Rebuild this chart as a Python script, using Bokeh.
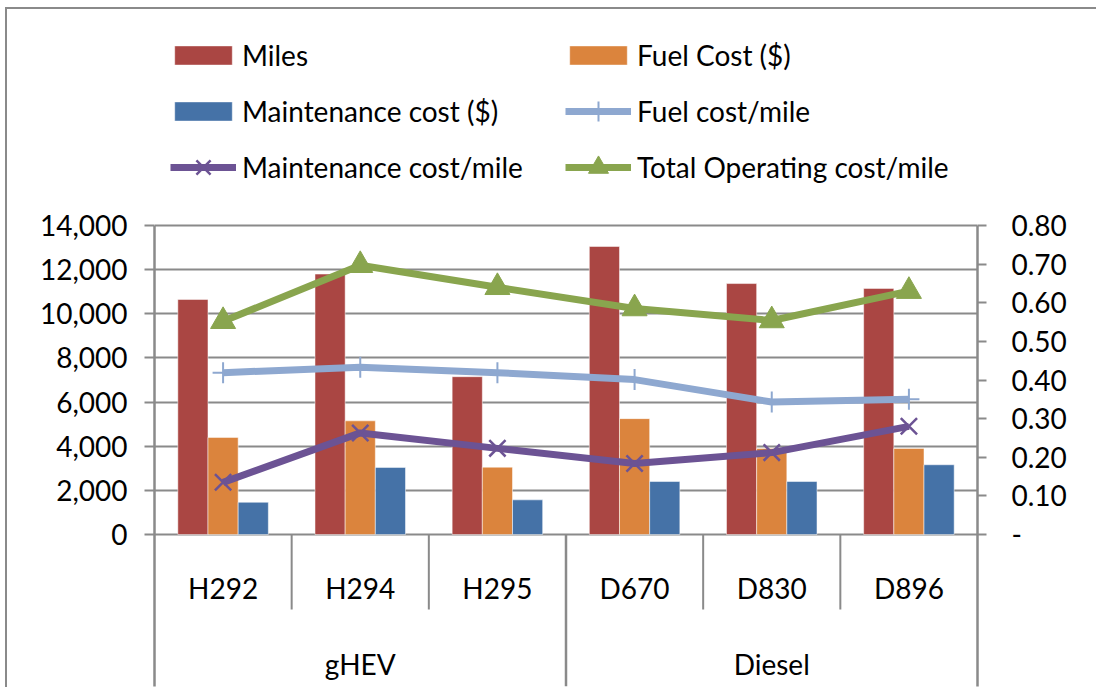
from bokeh.plotting import figure
from bokeh.models import (Range1d, FactorRange, LinearAxis, FixedTicker, NumeralTickFormatter,
                          ColumnDataSource, Legend, LegendItem, Grid)
from bokeh.transform import dodge
from bokeh.core.properties import value
from bokeh.embed import file_html
from bokeh.resources import INLINE

# ---------------- data ----------------
vehicles = ["H292", "H294", "H295", "D670", "D830", "D896"]
groups = ["gHEV", "gHEV", "gHEV", "Diesel", "Diesel", "Diesel"]
miles = [10650, 11800, 7150, 13050, 11370, 11150]
fuel_cost = [4400, 5150, 3050, 5250, 3900, 3900]
maint_cost = [1460, 3040, 1570, 2400, 2400, 3160]
fuel_per_mile = [0.419, 0.433, 0.419, 0.401, 0.343, 0.350]
maint_per_mile = [0.135, 0.263, 0.223, 0.184, 0.212, 0.280]
total_per_mile = [0.552, 0.697, 0.640, 0.585, 0.554, 0.630]
left_ticks = [0, 2000, 4000, 6000, 8000, 10000, 12000, 14000]
right_ticks = [0, 0.1, 0.2, 0.3, 0.4, 0.5, 0.6, 0.7, 0.8]

# ---------------- style / layout ----------------
FONT = "Lato"
FS = "28px"
GRAY = "#8a8a8a"
C_MILES = "#AA4643"
C_FUEL = "#DB843D"
C_MAINT = "#4572A7"
C_FPM = "#8EA8D0"
C_MPM = "#6C5394"
C_TPM = "#89A54E"

MX, MY, BORDER = 5, 7, 2
OX, OY = MX + BORDER, MY + BORDER        # window position of canvas origin
W, H = 1091, 680
frame_left_w, frame_right_w = 154, 977
frame_top_w = OY                        # frame spans whole canvas height
tick_top_w, zero_w, frame_bottom_w = 225, 534, 686
Y_MAX = left_ticks[-1]
R_MAX = right_ticks[-1]
ppu = (zero_w - tick_top_w) / Y_MAX


def y_at(win_y):
    return -(win_y - zero_w) / ppu


y_start = y_at(frame_bottom_w)
y_end = y_at(frame_top_w)
r_start = y_start / Y_MAX * R_MAX
r_end = y_end / Y_MAX * R_MAX

p = figure(width=W, height=H,
           x_range=FactorRange(factors=vehicles, range_padding=0),
           y_range=Range1d(y_start, y_end),
           output_backend="svg", toolbar_location=None,
           x_axis_location=None, y_axis_location=None,
           min_border_left=frame_left_w - OX,
           min_border_right=W - (frame_right_w - OX),
           min_border_top=0,
           min_border_bottom=H - (frame_bottom_w - OY))
p.center = []
p.outline_line_color = None
p.background_fill_color = "white"
p.border_fill_color = "white"
p.styles = {"margin-left": f"{MX}px", "margin-top": f"{MY}px",
            "border-left": f"{BORDER}px solid #8a8a8a", "border-top": f"{BORDER}px solid #8a8a8a",
            "border-right": "0px", "border-bottom": "0px", "outline": "none"}

p.extra_y_ranges = {"r": Range1d(r_start, r_end)}

grid = Grid(dimension=1, ticker=FixedTicker(ticks=left_ticks),
            grid_line_color=GRAY, grid_line_width=2)
p.add_layout(grid, "center")

axis_style = dict(axis_line_color=GRAY, axis_line_width=2.5,
                  major_tick_line_color=GRAY, major_tick_line_width=2,
                  major_tick_in=0, minor_tick_line_color=None,
                  major_label_text_font=FONT, major_label_text_font_size=FS,
                  major_label_text_color="black")
yl = LinearAxis(ticker=FixedTicker(ticks=left_ticks), bounds=(y_start, Y_MAX),
                formatter=NumeralTickFormatter(format="0,0"),
                major_tick_out=10, major_label_standoff=17, **axis_style)
p.add_layout(yl, "left")
yr = LinearAxis(y_range_name="r", ticker=FixedTicker(ticks=right_ticks), bounds=(r_start, R_MAX),
                formatter=NumeralTickFormatter(format="0.00"),
                major_label_overrides={0: "-"},
                major_tick_out=9, major_label_standoff=25, **axis_style)
p.add_layout(yr, "right")

src = ColumnDataSource(dict(vehicle=vehicles, group=groups, miles=miles, fuel=fuel_cost,
                            maint=maint_cost, fpm=fuel_per_mile, mpm=maint_per_mile,
                            tpm=total_per_mile))

bw = 0.22
bar_kw = dict(width=bw, source=src, line_color="white", line_alpha=0.5, line_width=1)
r_miles = p.vbar(x=dodge("vehicle", -bw, range=p.x_range), top="miles", fill_color=C_MILES, **bar_kw)
r_fuel = p.vbar(x=dodge("vehicle", 0, range=p.x_range), top="fuel", fill_color=C_FUEL, **bar_kw)
r_maint = p.vbar(x=dodge("vehicle", bw, range=p.x_range), top="maint", fill_color=C_MAINT, **bar_kw)

# category separators below the axis
inner_sep = [v for i, v in enumerate(vehicles) if i > 0 and groups[i] == groups[i - 1]]
group_sep = [v for i, v in enumerate(vehicles) if i > 0 and groups[i] != groups[i - 1]]
y_inner = y_at(609)
p.segment(x0=dodge("v", -0.5, range=p.x_range), x1=dodge("v", -0.5, range=p.x_range),
          y0=0, y1=y_inner, source=ColumnDataSource(dict(v=inner_sep)),
          line_color=GRAY, line_width=2)
p.segment(x0=dodge("v", -0.5, range=p.x_range), x1=dodge("v", -0.5, range=p.x_range),
          y0=0, y1=y_start, source=ColumnDataSource(dict(v=group_sep)),
          line_color=GRAY, line_width=2.5)

# category labels
p.text(x="vehicle", y=y_at(587), text="vehicle", source=src,
       text_font=value(FONT), text_font_size=value(FS), text_color="black",
       text_align="center", text_baseline="middle")
gnames = []
for g in groups:
    if g not in gnames:
        gnames.append(g)
gmid = []
for g in gnames:
    members = [v for v, gg in zip(vehicles, groups) if gg == g]
    gmid.append(members[len(members) // 2])
p.text(x="v", y=y_at(663), text="g", source=ColumnDataSource(dict(v=gmid, g=gnames)),
       text_font=value(FONT), text_font_size=value(FS), text_color="black",
       text_align="center", text_baseline="middle")

# lines
lw = 7
l_fpm = p.line(x="vehicle", y="fpm", y_range_name="r", source=src, line_color=C_FPM,
               line_width=lw, line_join="round")
m_fpm = p.scatter(x="vehicle", y="fpm", y_range_name="r", source=src, marker="cross",
                  size=21, line_color=C_FPM, line_width=2)
l_mpm = p.line(x="vehicle", y="mpm", y_range_name="r", source=src, line_color=C_MPM,
               line_width=lw, line_join="round")
m_mpm = p.scatter(x="vehicle", y="mpm", y_range_name="r", source=src, marker="x",
                  size=23, line_color=C_MPM, line_width=2.5)
l_tpm = p.line(x="vehicle", y="tpm", y_range_name="r", source=src, line_color=C_TPM,
               line_width=lw, line_join="round")
m_tpm = p.scatter(x="vehicle", y="tpm", y_range_name="r", source=src, marker="triangle",
                  size=25, fill_color=C_TPM, line_color=C_TPM)


def add_leg(renderers, label, x_win, center_win, gw, gh, lh, standoff):
    item_h = max(gh, lh)
    leg = Legend(items=[LegendItem(label=label, renderers=renderers)],
                 location=(x_win - frame_left_w, frame_bottom_w - (center_win + item_h / 2)),
                 orientation="vertical", glyph_width=gw, glyph_height=gh, label_height=lh,
                 label_standoff=standoff, padding=0, margin=0, spacing=0,
                 border_line_color=None, background_fill_alpha=0,
                 label_text_font=FONT, label_text_font_size=FS, label_text_color="black")
    p.add_layout(leg, "center")


BGW, BGH, BLH = 72, 24, 34
LGW, LGH = 66, 50
add_leg([r_miles], "Miles", 167, 54.5, BGW, BGH, BLH, 3)
add_leg([r_maint], "Maintenance cost ($)", 167, 111.3, BGW, BGH, BLH, 3)
add_leg([l_mpm, m_mpm], "Maintenance cost/mile", 170, 166.7, LGW, LGH, LGH, 6)
add_leg([r_fuel], "Fuel Cost ($)", 562, 54.5, BGW, BGH, BLH, 3)
add_leg([l_fpm, m_fpm], "Fuel cost/mile", 565, 111.3, LGW, LGH, LGH, 6)
add_leg([l_tpm, m_tpm], "Total Operating cost/mile", 565, 166.7, LGW, LGH, LGH, 6)

open("out.html", "w").write(file_html(p, INLINE))
